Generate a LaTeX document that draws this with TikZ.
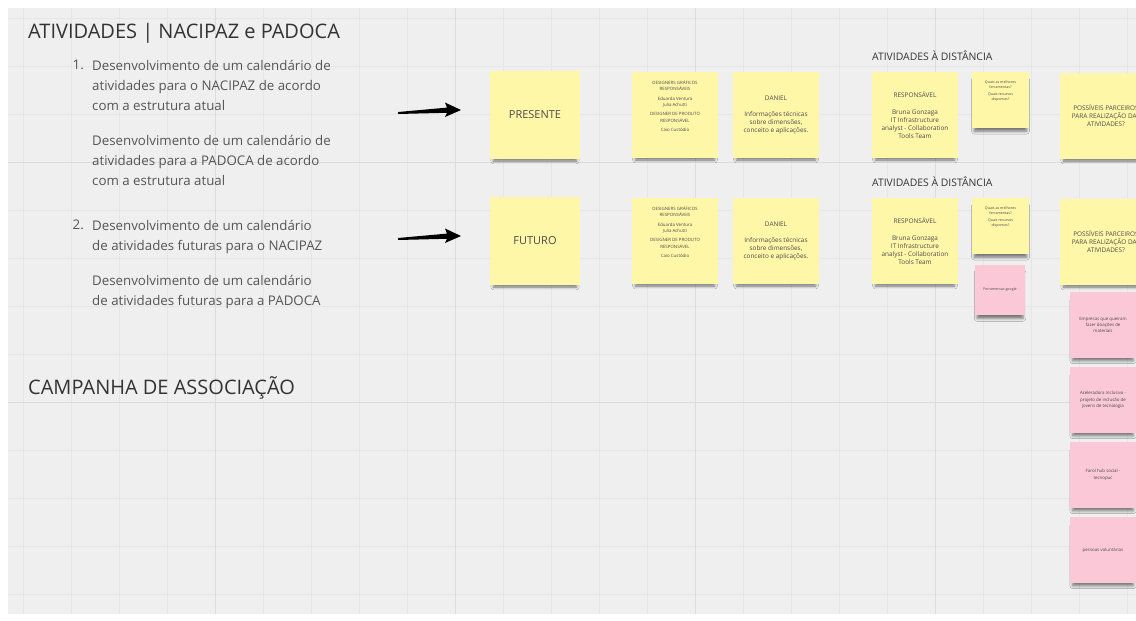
\documentclass[tikz,border=0pt]{standalone}
\usepackage{fontspec}
\setmainfont{Open Sans}
\usetikzlibrary{positioning,calc,shadows.blur}

\definecolor{canvas}{HTML}{EFEFEF}
\definecolor{gridminor}{HTML}{E6E6E6}
\definecolor{gridmajor}{HTML}{DCDCDC}
\definecolor{sticky}{HTML}{FFF7A8}
\definecolor{rosa}{HTML}{FBC8D7}
\definecolor{ink}{HTML}{333333}
\definecolor{softink}{HTML}{555555}
\definecolor{noteink}{HTML}{4A4A4A}

\begin{document}
\begin{tikzpicture}[x=1pt,y=-1pt,
	gridline/.style={draw=gridminor,line width=0.6pt},
	gridbold/.style={draw=gridmajor,line width=1pt},
	heading/.style={anchor=base west,inner sep=0,text=ink,font=\fontsize{20}{24}\selectfont},
	subhead/.style={anchor=west,inner sep=0,text=ink,font=\fontsize{10.4}{12}\selectfont},
	para/.style={anchor=north west,inner sep=0,align=left,text=softink,font=\fontsize{13.3}{20}\selectfont},
	num/.style={anchor=north east,inner sep=0,text=softink,font=\fontsize{13.3}{20}\selectfont},
	note/.style={fill=sticky,inner sep=0,align=center,text=noteink,minimum width=86,minimum height=86,
		blur shadow={shadow xshift=0pt,shadow yshift=-6pt,shadow scale=0.92,shadow opacity=50,shadow blur radius=3pt}},
	pinknote/.style={note,fill=rosa,minimum width=66,minimum height=66},
	notetext/.style={align=center,inner sep=0,text=noteink},
	bigfont/.style={font=\fontsize{11}{13}\selectfont},
	midfont/.style={font=\fontsize{6.4}{8}\selectfont},
	tinyfont/.style={font=\fontsize{4.4}{6.3}\selectfont},
	microfont/.style={font=\fontsize{3.6}{4.6}\selectfont}]

	\useasboundingbox (0,0) rectangle (1136,621);
	\clip (0,0) rectangle (1136,621);
	\fill[white] (0,0) rectangle (1136,621);
	\fill[canvas] (8,8) rectangle (1136,614);

	% board grid
	\foreach \gx in {23,71,...,1136}
		\draw[gridline] (\gx,8) -- (\gx,614);
	\foreach \gy in {18,66,...,614}
		\draw[gridline] (8,\gy) -- (1136,\gy);
	\foreach \gx in {215,455,695,935}
		\draw[gridbold] (\gx,8) -- (\gx,614);
	\foreach \gy in {162,402}
		\draw[gridbold] (8,\gy) -- (1136,\gy);

	% left column
	\node[heading] (titulo) at (28,38) {ATIVIDADES | NACIPAZ e PADOCA};
	\node[para] (p1) at (92,60) {Desenvolvimento de um calendário de\\atividades para o NACIPAZ de acordo\\com a estrutura atual};
	\node[para] (p2) at (92,135) {Desenvolvimento de um calendário de\\atividades para a PADOCA de acordo\\com a estrutura atual};
	\node[para] (p3) at (92,220) {Desenvolvimento de um calendário\\de atividades futuras para o NACIPAZ};
	\node[para] (p4) at (92,275) {Desenvolvimento de um calendário\\de atividades futuras para a PADOCA};
	\node[num] (n1) at ($(p1.north west)+(-8,0)$) {1.};
	\node[num] (n2) at ($(p3.north west)+(-8,0)$) {2.};
	\node[heading] (campanha) at (28,394) {CAMPANHA DE ASSOCIAÇÃO};

	% two rows of notes
	\foreach \r/\y/\tag in {1/115/PRESENTE, 2/241/FUTURO}{
		\coordinate (at\r) at (398,\y-2);
		\coordinate (ah\r) at (461,\y-5);
		\fill[black] (at\r) -- ($(at\r)+(0,-1)$) -- ($(ah\r)+(-14,-2.4)$) -- ($(ah\r)+(-16,-7.5)$) -- (ah\r)
			-- ($(ah\r)+(-16,7)$) -- ($(ah\r)+(-14,2.8)$) -- ($(at\r)+(0,1)$) -- cycle;

		\node[note,bigfont,minimum width=90,minimum height=88] (tag\r) at (535,\y) {\tag};
		\node[note] (dg\r) at (675,\y) {};
		\node[notetext,tinyfont] (dgt\r) at ([yshift=9pt]dg\r.center)
			{DESIGNERS GRÁFICOS\\RESPONSÁVEIS\\[3pt]Eduarda Ventura\\Julia Achutti\\[3pt]DESIGNER DE PRODUTO\\RESPONSÁVEL\\[3pt]Caio Custódio};
		\node[note,midfont] (dn\r) at (776,\y) {DANIEL\\[8pt]Informações técnicas\\sobre dimensões,\\conceito e aplicações.};
		\node[subhead] (ad\r) at (872,\y-59.5) {ATIVIDADES À DISTÂNCIA};
		\node[note,midfont] (rp\r) at (915,\y) {RESPONSÁVEL\\[9pt]Bruna Gonzaga\\IT Infrastructure\\analyst - Collaboration\\Tools Team};
		\node[note,minimum width=57,minimum height=56] (qa\r) at (1000.5,\y-15) {};
		\node[notetext,microfont] (qat\r) at ([yshift=9pt]qa\r.center)
			{Quais as melhores\\ferramentas?\\[2.5pt]Quais recursos\\dispomos?};
		\node[note,midfont,minimum width=92] (pp\r) at (1106,\y+1) {POSSÍVEIS PARCEIROS\\PARA REALIZAÇÃO DAS\\ATIVIDADES?};
	}

	% pink notes
	\node[pinknote,microfont,minimum width=50,minimum height=50] (fg) at (1000,290) {Ferramentas google};
	\node[pinknote,tinyfont] (pk1) at (1103,325) {Empresas que queiram\\fazer doações de\\materiais};
	\node[pinknote,tinyfont] (pk2) at (1103,400) {Aceleradora Inclusiva -\\projeto de inclusão de\\jovens de tecnologia};
	\node[pinknote,tinyfont] (pk3) at (1103,475) {Farol hub social -\\tecnopuc};
	\node[pinknote,tinyfont] (pk4) at (1103,550) {pessoas voluntárias};
\end{tikzpicture}
\end{document}
